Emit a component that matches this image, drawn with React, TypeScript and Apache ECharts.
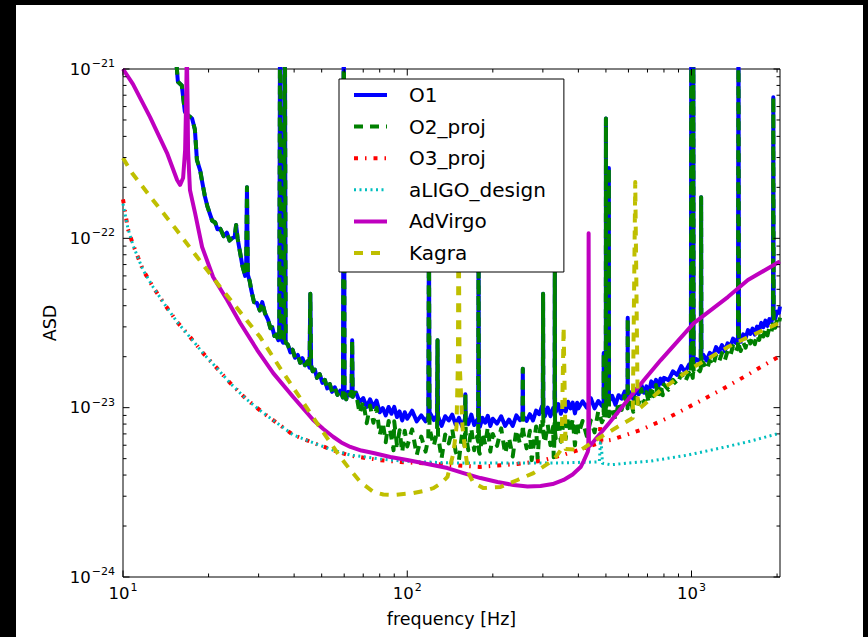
import React, { useEffect, useRef } from 'react';
import * as echarts from 'echarts';

const FONT = '"DejaVu Sans", Verdana, sans-serif';

// Amplitude spectral densities: [frequency in Hz, ASD]
// O1 and O2_proj share the same low-frequency trace below ~65 Hz.
const sharedLow: [number, number][] = [
  [15.3, 1.3e-21], [15.5, 9.6e-22], [15.6, 8.4e-22], [16.1, 8.0e-22], [16.5, 5.6e-22],
  [16.9, 5.35e-22], [17.5, 5.1e-22], [17.9, 4.4e-22], [18.2, 2.9e-22], [18.7, 2.5e-22],
  [19.0, 2.15e-22], [19.4, 1.78e-22], [19.8, 1.55e-22], [20.2, 1.4e-22], [20.6, 1.27e-22],
  [21.1, 1.24e-22], [21.5, 1.13e-22], [22.0, 1.14e-22], [22.6, 1.03e-22], [23.2, 1.08e-22],
  [23.7, 9.7e-23], [24.2, 1.0e-22], [24.7, 1.02e-22], [25.0, 1.2e-22], [25.3, 1.0e-22],
  [25.8, 8.3e-23], [26.3, 6.9e-23], [26.9, 6.0e-23], [27.1, 6.2e-23], [27.3, 2.0e-22],
  [27.5, 6.1e-23], [27.9, 5.6e-23], [28.3, 4.9e-23], [28.9, 4.2e-23], [29.6, 4.15e-23],
  [30.3, 3.75e-23], [30.9, 4.2e-23], [31.6, 3.6e-23], [32.4, 3.3e-23], [33.0, 2.95e-23],
  [33.5, 2.98e-23], [34.1, 2.65e-23], [34.6, 2.7e-23], [35.2, 2.5e-23], [35.45, 2.62e-23],
  [35.7, 3e-21], [35.95, 2.55e-23], [36.6, 2.42e-23], [36.85, 2.52e-23], [37.1, 3e-21],
  [37.35, 2.42e-23], [38.0, 2.36e-23], [38.8, 2.12e-23], [39.5, 2.2e-23], [40.3, 1.97e-23],
  [41.2, 2.05e-23], [42.0, 1.84e-23], [42.8, 1.96e-23], [43.7, 1.78e-23], [44.6, 1.88e-23],
  [45.3, 1.72e-23], [45.6, 4.7e-23], [45.9, 1.78e-23], [46.5, 1.64e-23], [47.3, 1.68e-23],
  [48.1, 1.5e-23], [49.2, 1.58e-23], [50.3, 1.4e-23], [51.3, 1.46e-23], [52.3, 1.3e-23],
  [53.4, 1.38e-23], [54.4, 1.24e-23], [55.6, 1.32e-23], [56.8, 1.19e-23], [58.1, 1.26e-23],
  [59.4, 1.15e-23], [59.8, 3e-21], [60.2, 1.22e-23], [61.0, 1.12e-23], [62.0, 1.24e-23],
  [63.1, 1.18e-23], [63.7, 1.26e-23], [64.0, 2.5e-23], [64.3, 1.16e-23], [65.0, 1.22e-23],
];

const o1High: [number, number][] = [
  [66, 12.3e-24], [68, 10.8e-24], [70, 11.4e-24], [72, 10.1e-24], [74, 11.2e-24], [76, 10.1e-24],
  [78, 11.0e-24], [80, 9.4e-24], [82, 9.95e-24], [84, 9.0e-24], [86, 10.1e-24], [88, 9.2e-24],
  [90, 10.1e-24], [92, 8.8e-24], [94, 9.5e-24], [96, 8.4e-24], [98, 9.4e-24], [100, 8.6e-24],
  [104, 9.6e-24], [108, 8.3e-24], [112, 9.0e-24], [116, 8.3e-24], [118.6, 8.9e-24], [119.2, 130e-24],
  [119.8, 9.4e-24], [124, 8.45e-24], [127.3, 9.0e-24], [127.8, 25e-24], [128.3, 8.9e-24], [132, 7.8e-24],
  [136, 8.9e-24], [140, 8.4e-24], [144, 9.1e-24], [148, 7.95e-24], [152, 8.7e-24], [156, 7.75e-24],
  [159.6, 8.6e-24], [160.1, 12e-24], [160.6, 8.7e-24], [164, 8.0e-24], [168, 9.1e-24], [172, 7.9e-24],
  [176, 8.45e-24], [177.6, 8.2e-24], [178.2, 110e-24], [178.8, 8.0e-24], [180, 7.7e-24], [184, 8.7e-24],
  [188, 8.15e-24], [192, 8.95e-24], [196, 7.8e-24], [200, 8.6e-24],
  [207, 8.05e-24], [214, 8.9e-24], [221, 7.8e-24], [228, 8.5e-24], [235, 7.8e-24], [242, 9.0e-24],
  [249, 8.45e-24], [254.3, 8.8e-24], [255, 17e-24], [255.7, 8.9e-24], [263, 8.35e-24], [270, 9.15e-24],
  [277, 8.4e-24], [284, 9.6e-24], [291, 9.15e-24], [298, 10.2e-24], [299.8, 9.9e-24], [300.5, 47e-24],
  [301.2, 9.6e-24], [305, 8.9e-24], [312, 10.0e-24], [319, 8.9e-24], [326, 9.95e-24], [329.8, 9.6e-24],
  [330.5, 80e-24], [331.2, 9.7e-24], [333, 9.4e-24], [340, 10.5e-24], [347, 9.2e-24], [354, 10.25e-24],
  [361, 9.5e-24], [368, 10.85e-24], [375, 9.9e-24], [382, 10.7e-24], [389, 9.25e-24], [396, 10.7e-24],
  [400, 9.9e-24],
  [414, 10.9e-24], [428, 10.0e-24], [442, 11.4e-24], [456, 9.9e-24], [470, 10.95e-24], [484, 10.25e-24],
  [490.5, 10.9e-24], [491, 21e-24], [491.5, 10.8e-24], [498, 11.75e-24], [499.3, 11.3e-24], [500, 510e-24],
  [500.7, 11.2e-24], [511.4, 11.0e-24], [512, 260e-24], [512.6, 10.9e-24], [526, 11.75e-24], [540, 10.4e-24],
  [554, 11.85e-24], [568, 11.3e-24], [582, 12.45e-24], [595.8, 11.3e-24], [596.5, 34e-24], [597.2, 11.5e-24],
  [610, 12.3e-24], [624, 11.25e-24], [638, 12.9e-24], [652, 12.0e-24], [666, 13.7e-24], [680, 12.25e-24],
  [694, 13.35e-24], [708, 12.35e-24], [722, 14.3e-24], [736, 13.3e-24], [750, 14.6e-24], [764, 13.25e-24],
  [778, 14.85e-24], [792, 13.8e-24], [800, 15.0e-24],
  [830, 14.5e-24], [860, 16.4e-24], [890, 15.6e-24], [920, 17.6e-24], [950, 16.2e-24], [980, 17.95e-24],
  [995, 17.4e-24], [998, 3000e-24], [1001, 17.9e-24], [1010, 17.05e-24], [1012.5, 18.0e-24], [1015, 3000e-24],
  [1017.5, 18.3e-24], [1040, 19.35e-24], [1070, 18.7e-24], [1078, 19.6e-24], [1081, 175e-24], [1084, 19.3e-24],
  [1100, 20.5e-24], [1130, 19.0e-24], [1160, 21.1e-24], [1190, 20.15e-24], [1220, 22.8e-24], [1250, 21.35e-24],
  [1280, 23.4e-24], [1310, 21.6e-24], [1340, 24.0e-24], [1370, 23.05e-24], [1400, 25.6e-24], [1430, 24.15e-24],
  [1457, 25.9e-24], [1463, 3000e-24], [1469, 26.4e-24], [1490, 24.5e-24], [1520, 27.1e-24], [1550, 25.7e-24],
  [1580, 28.7e-24], [1610, 27.25e-24], [1640, 29.3e-24], [1670, 27.0e-24], [1700, 30.1e-24], [1730, 28.5e-24],
  [1760, 31.7e-24], [1790, 29.9e-24], [1820, 32.65e-24], [1850, 30.4e-24], [1880, 33.35e-24], [1910, 32.1e-24],
  [1934, 34.5e-24], [1940, 680e-24], [1946, 34.8e-24], [1970, 33.65e-24], [2000, 36.9e-24], [2030, 36.25e-24],
  [2048, 39.6e-24],
];

const o2High: [number, number][] = [
  [66, 12.2e-24], [68, 9.25e-24], [70, 10.95e-24], [72, 8.1e-24], [74, 10.3e-24], [76, 8.15e-24],
  [78, 10.0e-24], [80, 6.9e-24], [82, 8.2e-24], [84, 6.25e-24], [86, 8.35e-24], [88, 6.6e-24],
  [89.5, 5.6e-24], [90, 8.3e-24], [92, 6.0e-24], [94, 7.35e-24], [96, 5.45e-24], [98, 7.3e-24],
  [100, 5.9e-24],
  [104, 7.45e-24], [108, 5.25e-24], [112, 6.75e-24], [116, 5.5e-24], [118.6, 6.6e-24], [119.2, 130e-24],
  [119.8, 7.5e-24], [124, 5.95e-24], [127.3, 7.2e-24], [127.8, 25e-24], [128.3, 6.9e-24], [132, 5.0e-24],
  [136, 6.95e-24], [140, 6.15e-24], [144, 7.45e-24], [148, 5.5e-24], [152, 4.9e-24], [156, 7.1e-24],
  [159.6, 5.8e-24], [160.1, 12e-24], [160.6, 7.0e-24], [164, 5.6e-24], [168, 7.55e-24], [172, 5.6e-24],
  [176, 6.75e-24], [177.6, 6.3e-24], [178.2, 110e-24], [178.8, 5.5e-24], [180, 5.35e-24], [184, 7.1e-24],
  [188, 6.05e-24], [192, 7.65e-24], [196, 5.5e-24], [200, 7.0e-24],
  [207, 5.95e-24], [214, 7.55e-24], [221, 5.35e-24], [228, 6.65e-24], [235, 5.15e-24], [242, 7.4e-24],
  [249, 6.15e-24], [254.3, 7.2e-24], [255, 17e-24], [255.7, 7.3e-24], [263, 5.75e-24], [270, 7.3e-24],
  [274, 4.9e-24], [277, 5.65e-24], [284, 7.75e-24], [287.5, 5.0e-24], [291, 6.85e-24], [298, 8.6e-24],
  [299.8, 7.9e-24], [300.5, 47e-24], [301.2, 7.0e-24], [305, 6.2e-24], [312, 7.95e-24], [319, 6.0e-24],
  [326, 7.75e-24], [327.5, 5.1e-24], [329.8, 6.8e-24], [330.5, 80e-24], [331.2, 7.1e-24], [333, 6.6e-24],
  [340, 8.65e-24], [347, 6.3e-24], [354, 8.05e-24], [361, 6.55e-24], [368, 8.85e-24], [375, 7.1e-24],
  [382, 8.6e-24], [389, 6.0e-24], [396, 8.3e-24], [400, 6.95e-24],
  [414, 8.35e-24], [428, 6.8e-24], [442, 8.4e-24], [456, 7.15e-24], [470, 9.55e-24], [484, 8.2e-24],
  [490.5, 8.6e-24], [491, 21e-24], [491.5, 8.5e-24], [498, 10.15e-24], [499.3, 9.3e-24], [500, 510e-24],
  [500.7, 9.0e-24], [511.4, 9.0e-24], [512, 260e-24], [512.6, 8.9e-24], [526, 10.1e-24], [540, 8.45e-24],
  [554, 10.85e-24], [568, 9.7e-24], [582, 11.75e-24], [595.8, 9.9e-24], [596.5, 34e-24], [597.2, 10.3e-24],
  [610, 11.35e-24], [624, 9.45e-24], [638, 12.1e-24], [652, 10.55e-24], [666, 12.9e-24], [680, 10.5e-24],
  [694, 12.35e-24], [708, 10.7e-24], [722, 13.4e-24], [736, 11.7e-24], [750, 13.6e-24], [764, 11.45e-24],
  [778, 13.75e-24], [792, 11.85e-24], [800, 13.7e-24],
  [830, 12.75e-24], [860, 14.6e-24], [890, 13.65e-24], [920, 15.75e-24], [950, 14.2e-24], [980, 16.05e-24],
  [995, 15.5e-24], [998, 3000e-24], [1001, 15.9e-24], [1010, 15.0e-24], [1012.5, 16.2e-24], [1015, 3000e-24],
  [1017.5, 16.4e-24], [1040, 17.3e-24], [1070, 16.4e-24], [1078, 17.0e-24], [1081, 175e-24], [1084, 16.8e-24],
  [1100, 18.45e-24], [1130, 16.75e-24], [1160, 18.95e-24], [1190, 17.65e-24], [1220, 20.45e-24], [1250, 18.7e-24],
  [1280, 21.0e-24], [1310, 19.05e-24], [1340, 21.65e-24], [1370, 20.35e-24], [1400, 23.1e-24], [1430, 21.3e-24],
  [1457, 23.0e-24], [1463, 3000e-24], [1469, 23.3e-24], [1490, 21.6e-24], [1520, 24.35e-24], [1550, 22.6e-24],
  [1580, 25.65e-24], [1610, 23.95e-24], [1640, 26.35e-24], [1670, 23.7e-24], [1700, 26.95e-24], [1730, 25.1e-24],
  [1760, 28.5e-24], [1790, 26.3e-24], [1820, 29.3e-24], [1850, 26.7e-24], [1880, 29.85e-24], [1910, 28.1e-24],
  [1934, 30.5e-24], [1940, 680e-24], [1946, 30.9e-24], [1970, 29.65e-24], [2000, 33.2e-24], [2030, 31.5e-24],
  [2048, 34.0e-24],
];

const o3Proj: [number, number][] = [
  [10, 1.7e-22], [10.4, 1.14e-22], [10.84, 9.2e-23], [11.76, 6.5e-23], [12.76, 5.16e-23],
  [14.06, 4.04e-23], [15.5, 3.21e-23], [17.2, 2.62e-23], [19.13, 2.1e-23], [21.4, 1.71e-23],
  [23.8, 1.4e-23], [26.9, 1.14e-23], [30.9, 9.4e-24], [34.9, 8.1e-24], [39.7, 6.9e-24],
  [46.7, 6.2e-24], [55, 5.6e-24], [63.1, 5.2e-24], [80.4, 4.9e-24], [94.6, 4.78e-24],
  [141.9, 4.59e-24], [180, 4.47e-24], [244, 4.65e-24], [293, 4.84e-24], [346, 5.2e-24],
  [424, 5.8e-24], [474, 6.2e-24], [478, 7.9e-24], [482, 6.3e-24], [520, 6.44e-24],
  [662, 7.38e-24], [825, 8.69e-24], [1268, 1.27e-23], [1468, 1.46e-23], [2048, 2.02e-23],
];

const aligoDesign: [number, number][] = [
  [10, 1.6e-22], [10.4, 1.15e-22], [10.84, 9.1e-23], [11.76, 6.5e-23], [12.76, 5.16e-23],
  [14.06, 4.04e-23], [15.5, 3.21e-23], [17.2, 2.61e-23], [19.13, 2.1e-23], [21.4, 1.71e-23],
  [23.8, 1.4e-23], [26.9, 1.14e-23], [30.9, 9.4e-24], [34.9, 8.1e-24], [39.7, 6.9e-24],
  [46.7, 6.2e-24], [55, 5.6e-24], [63.1, 5.25e-24], [80.4, 4.98e-24], [94.6, 4.84e-24],
  [141.9, 4.72e-24], [212.9, 4.72e-24], [346, 4.72e-24], [460, 4.78e-24], [474, 4.8e-24],
  [478, 6.2e-24], [482, 6.0e-24], [486, 4.7e-24], [520, 4.6e-24], [720, 4.84e-24],
  [970, 5.25e-24], [1268, 5.78e-24], [1618, 6.35e-24], [2048, 7.08e-24],
];

const adVirgo: [number, number][] = [
  [10, 1.0e-21], [10.84, 8.15e-22], [12.45, 5.2e-22], [14.29, 3.19e-22], [15.5, 2.21e-22],
  [15.88, 2.07e-22], [16.27, 2.27e-22], [16.54, 3.32e-22], [16.68, 6.56e-22], [16.77, 1.3e-21],
  [16.87, 6.5e-22], [16.94, 3.3e-22], [17.2, 1.93e-22], [17.93, 1.41e-22], [18.98, 8.89e-23],
  [20.75, 5.91e-23], [23.25, 4.32e-23], [25.84, 3.16e-23], [29.66, 2.19e-23], [33.77, 1.6e-23],
  [39.7, 1.156e-23], [46.7, 8.45e-24], [50.66, 7.48e-24], [55, 6.71e-24], [58.6, 6.23e-24],
  [63.1, 5.86e-24], [68.96, 5.58e-24], [76, 5.4e-24], [87.2, 5.11e-24], [100, 4.91e-24],
  [117.8, 4.65e-24], [138.5, 4.4e-24], [157.7, 4.11e-24], [181, 3.84e-24], [207.8, 3.64e-24],
  [236.6, 3.49e-24], [265, 3.42e-24], [294.4, 3.45e-24], [324.7, 3.54e-24], [354.9, 3.74e-24],
  [381.7, 4.03e-24], [407.4, 4.46e-24], [417.5, 4.84e-24], [431.3, 5.47e-24], [433.5, 5.7e-24],
  [434.6, 1.07e-22], [435.7, 5.9e-24], [441.8, 6.02e-24], [513.4, 8.12e-24], [596.6, 1.11e-23],
  [681.9, 1.46e-23], [779.6, 1.91e-23], [1019, 3.16e-23], [1342, 4.5e-23], [1579, 5.67e-23],
  [2030, 7.25e-23], [2048, 7.3e-23],
];

const kagra: [number, number][] = [
  [10, 2.98e-22], [10.76, 2.43e-22], [12.76, 1.68e-22], [15.25, 1.15e-22], [18.23, 7.76e-23],
  [21.96, 5.16e-23], [25.84, 3.67e-23], [30.38, 2.61e-23], [35.74, 1.71e-23], [42.03, 1.14e-23],
  [49.43, 7.59e-24], [58.14, 5.11e-24], [63.1, 4.28e-24], [68.4, 3.64e-24], [76, 3.18e-24],
  [82.4, 3.07e-24], [89.4, 3.05e-24], [105.1, 3.13e-24], [114, 3.22e-24], [123.6, 3.35e-24],
  [131.9, 3.59e-24], [138.5, 3.9e-24], [145.4, 5.4e-24], [149, 7.69e-24], [150.8, 1.91e-23],
  [151.5, 2.2e-22], [152.7, 1.91e-23], [156.4, 7.69e-24], [160.3, 5.4e-24], [164.2, 4.11e-24],
  [171, 3.59e-24], [185.5, 3.35e-24], [212.9, 3.4e-24], [244.2, 3.74e-24], [278, 4.11e-24],
  [327.3, 4.91e-24], [349, 5.7e-24], [354.9, 3.0e-23], [360.7, 5.7e-24], [407.4, 5.62e-24],
  [478.9, 6.71e-24], [563.6, 7.9e-24], [621.2, 8.69e-24], [634, 2.15e-22], [647, 9.69e-24],
  [779.6, 1.27e-23], [1019, 1.74e-23], [1342, 2.28e-23], [1579, 2.61e-23], [2030, 3.16e-23],
  [2048, 3.2e-23],
];

// Axis ranges and tick positions
const X_MIN = 10;
const X_MAX = 2048;
const Y_MIN = 1e-24;
const Y_MAX = 1e-21;
const xMajorTicks = [10, 100, 1000];
const xMinorTicks = [20, 30, 40, 50, 60, 70, 80, 90, 200, 300, 400, 500, 600, 700, 800, 900, 2000];
const yMajorTicks = [1e-24, 1e-23, 1e-22, 1e-21];
const yMinorTicks = [
  2e-24, 3e-24, 4e-24, 5e-24, 6e-24, 7e-24, 8e-24, 9e-24,
  2e-23, 3e-23, 4e-23, 5e-23, 6e-23, 7e-23, 8e-23, 9e-23,
  2e-22, 3e-22, 4e-22, 5e-22, 6e-22, 7e-22, 8e-22, 9e-22,
];

const seriesNames = ['O1', 'O2_proj', 'O3_proj', 'aLIGO_design', 'AdVirgo', 'Kagra'];

// The log scale loses precision on values this small, so the y axis works in
// units of 1e-24 and the labels add the exponent back.
const ASD_UNIT_EXP = -24;
const ASD_UNIT = 1e-24;
const toUnit = (a: number) => a / ASD_UNIT;
const scaled = (d: [number, number][]) => d.map(([f, a]) => [f, toUnit(a)]);

const powerText = (e: number) => {
  const exp = e < 0 ? '\u2212' + Math.abs(e) : String(e);
  return `{b|10}{s|${exp}}`;
};
const decadeOf = (v: number): number | null => {
  const e = Math.log10(v);
  const r = Math.round(e);
  return Math.abs(e - r) > 1e-6 ? null : r;
};
const xLabel = (v: number) => {
  const r = decadeOf(v);
  return r === null ? '' : powerText(r);
};
const yLabel = (v: number) => {
  const r = decadeOf(v);
  return r === null ? '' : powerText(r + ASD_UNIT_EXP);
};

const labelRich = {
  b: { fontFamily: FONT, fontSize: 16.5, color: '#000', lineHeight: 22 },
  s: { fontFamily: FONT, fontSize: 11, color: '#000', lineHeight: 9, verticalAlign: 'top', padding: [0, 0, 0, 1] },
};

function lineSeries(name: string, data: [number, number][], color: string, width: number, dash: any) {
  return {
    type: 'line',
    name,
    data: scaled(data),
    symbol: 'none',
    showSymbol: false,
    clip: true,
    z: 2,
    lineStyle: { color, width, type: dash, cap: 'butt', join: 'round' },
    itemStyle: { color },
    emphasis: { disabled: true },
  };
}

const tickStyle = { stroke: '#000', lineWidth: 1 };
const MID_Y = 10;
const MID_X = 100;

const xTickData = [
  ...xMajorTicks.map((t) => [t, MID_Y, 1]),
  ...xMinorTicks.map((t) => [t, MID_Y, 0]),
];
const yTickData = [
  ...yMajorTicks.map((t) => [MID_X, toUnit(t), 1]),
  ...yMinorTicks.map((t) => [MID_X, toUnit(t), 0]),
];

export default function App() {
  const ref = useRef<HTMLDivElement>(null);

  useEffect(() => {
    document.body.style.margin = '0';
    document.body.style.background = '#000';
    const chart = echarts.init(ref.current!, null, { renderer: 'svg' });
    const option: any = {
      animation: false,
      backgroundColor: '#000',
      graphic: [
        {
          type: 'rect',
          shape: { x: 16, y: 5, width: 847, height: 632 },
          style: { fill: '#fff' },
          z: -10,
          silent: true,
        },
      ],
      grid: {
        left: 123,
        top: 69,
        width: 657,
        height: 508,
        show: true,
        borderColor: '#000',
        borderWidth: 1,
        backgroundColor: 'transparent',
      },
      xAxis: {
        type: 'log',
        logBase: 10,
        min: X_MIN,
        max: X_MAX,
        axisLine: { show: false },
        axisTick: { show: false },
        minorTick: { show: false },
        splitLine: { show: false },
        axisLabel: { formatter: xLabel, margin: 5, rich: labelRich },
        name: 'frequency [Hz]',
        nameLocation: 'middle',
        nameGap: 33,
        nameTextStyle: { fontFamily: FONT, fontSize: 17.5, color: '#000' },
      },
      yAxis: {
        type: 'log',
        logBase: 10,
        min: toUnit(Y_MIN),
        max: toUnit(Y_MAX),
        axisLine: { show: false },
        axisTick: { show: false },
        minorTick: { show: false },
        splitLine: { show: false },
        axisLabel: { formatter: yLabel, margin: 8, rich: labelRich },
        name: 'ASD',
        nameLocation: 'middle',
        nameGap: 62,
        nameTextStyle: { fontFamily: FONT, fontSize: 17.5, color: '#000' },
      },
      legend: {
        data: seriesNames,
        orient: 'vertical',
        left: 339,
        top: 79,
        backgroundColor: '#fff',
        borderColor: '#000',
        borderWidth: 1,
        borderRadius: 0,
        padding: [5, 18, 8, 13],
        itemWidth: 33,
        itemHeight: 14,
        itemGap: 9.6,
        selectedMode: false,
        lineStyle: { width: 'inherit' },
        itemStyle: { opacity: 0 },
        textStyle: { fontFamily: FONT, fontSize: 20, color: '#000', lineHeight: 22, padding: [0, 0, 0, 17] },
        z: 10,
      },
      series: [
        lineSeries('O1', [...sharedLow, ...o1High], '#0000ff', 4, 'solid'),
        lineSeries('O2_proj', [...sharedLow, ...o2High], '#008000', 4, [9, 7]),
        lineSeries('O3_proj', o3Proj, '#ff0000', 4, [4, 7, 1.5, 7]),
        lineSeries('aLIGO_design', aligoDesign, '#00bfbf', 3, [2, 3.5]),
        lineSeries('AdVirgo', adVirgo, '#bf00bf', 4, 'solid'),
        lineSeries('Kagra', kagra, '#bfbf00', 4, [9, 8]),
        {
          type: 'custom',
          name: 'xTicks',
          silent: true,
          z: 5,
          data: xTickData,
          encode: { x: 0, y: 1 },
          renderItem: (params: any, api: any) => {
            const cs = params.coordSys;
            const x = api.coord([api.value(0), MID_Y])[0];
            const len = api.value(2) ? 6.5 : 3.5;
            const bottom = cs.y + cs.height;
            return {
              type: 'group',
              children: [
                { type: 'line', shape: { x1: x, y1: bottom, x2: x, y2: bottom - len }, style: tickStyle },
                { type: 'line', shape: { x1: x, y1: cs.y, x2: x, y2: cs.y + len }, style: tickStyle },
              ],
            };
          },
        },
        {
          type: 'custom',
          name: 'yTicks',
          silent: true,
          z: 5,
          data: yTickData,
          encode: { x: 0, y: 1 },
          renderItem: (params: any, api: any) => {
            const cs = params.coordSys;
            const y = api.coord([MID_X, api.value(1)])[1];
            const len = api.value(2) ? 6.5 : 3.5;
            const right = cs.x + cs.width;
            return {
              type: 'group',
              children: [
                { type: 'line', shape: { x1: cs.x, y1: y, x2: cs.x + len, y2: y }, style: tickStyle },
                { type: 'line', shape: { x1: right, y1: y, x2: right - len, y2: y }, style: tickStyle },
              ],
            };
          },
        },
      ],
    };
    chart.setOption(option);
    return () => chart.dispose();
  }, []);

  return <div ref={ref} style={{ width: 868, height: 637 }} />;
}
